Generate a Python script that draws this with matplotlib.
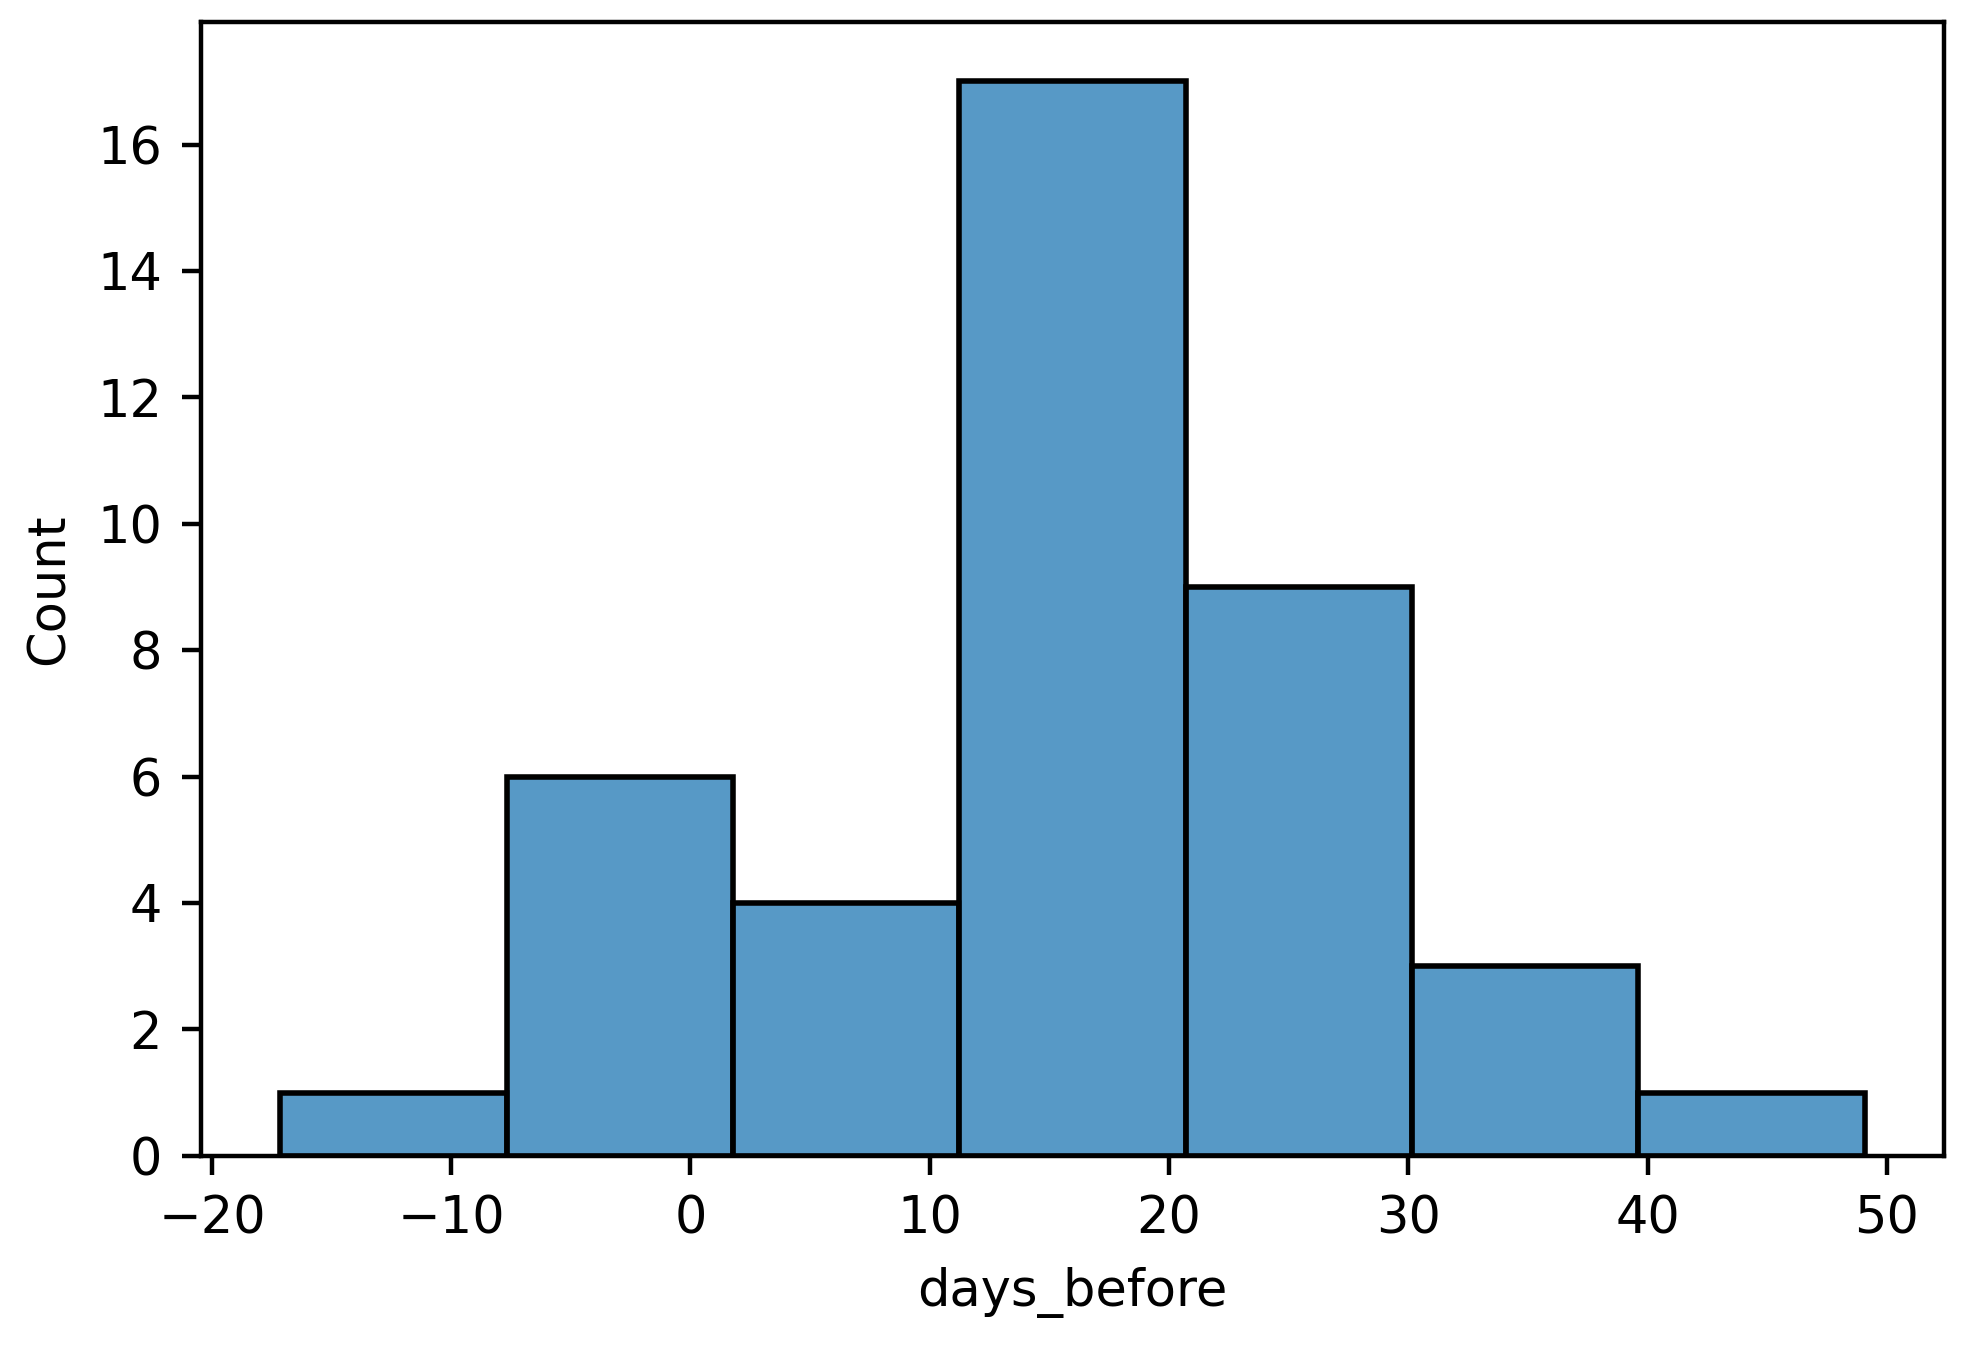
import numpy as np
import matplotlib
matplotlib.use("Agg")
import matplotlib.pyplot as plt
from matplotlib.colors import to_rgba

# histogram of days_before, 7 bins
bin_edges = np.linspace(-17.15, 49.08, 8)
counts = [1, 6, 4, 17, 9, 3, 1]

x_label = "days_before"
y_label = "Count"

plt.rcParams["font.size"] = 9.2

fig = plt.figure(figsize=(4.92, 3.3675), dpi=400)
ax = fig.add_axes([0.1021, 0.142, 0.8857, 0.8415])

widths = np.diff(bin_edges)
ax.bar(bin_edges[:-1], counts, width=widths, align="edge",
       facecolor=to_rgba("#1f77b4", 0.75), edgecolor="black", linewidth=1.0)

span = bin_edges[-1] - bin_edges[0]
ax.set_xlim(bin_edges[0] - 0.05 * span, bin_edges[-1] + 0.05 * span)
ax.set_ylim(0, max(counts) * 1.055)
ax.set_xticks(np.arange(-20, 51, 10))
ax.set_yticks(np.arange(0, 17, 2))
ax.set_xlabel(x_label)
ax.set_ylabel(y_label)

fig.savefig("out.png", dpi=400)
